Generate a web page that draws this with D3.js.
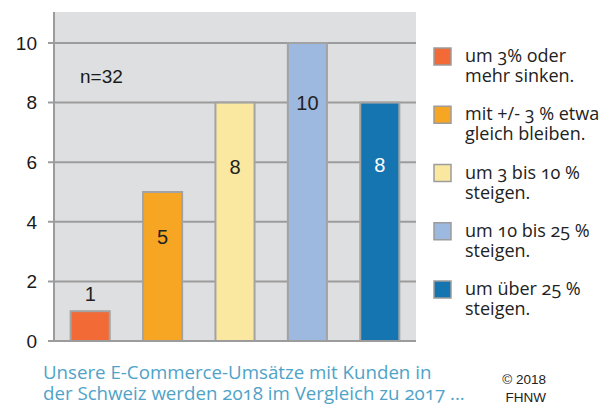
<!DOCTYPE html>
<html><head><meta charset="utf-8">
<script src="https://cdn.jsdelivr.net/npm/d3@7"></script>
<style>
body{margin:0;background:#fff;}
svg{display:block;}
.leg{font-family:"Open Sans",sans-serif;font-size:18px;fill:#222;font-variant-numeric:oldstyle-nums;font-feature-settings:"onum";}
.cap{font-family:"Open Sans",sans-serif;font-size:18.7px;fill:#4fa3c8;font-variant-numeric:oldstyle-nums;font-feature-settings:"onum";}
</style></head>
<body>
<script>
const categories = ["um 3% oder\nmehr sinken.", "mit +/- 3 % etwa\ngleich bleiben.", "um 3 bis 10 %\nsteigen.", "um 10 bis 25 %\nsteigen.", "um über 25 %\nsteigen."];
const values = [1, 5, 8, 10, 8];
const labelAt = [1.6, 3.5, 5.85, 8, 5.9];
const colors = ["#f26a35", "#f6a623", "#fbe8a0", "#9db9e0", "#1475b1"];
const labelColors = ["#222", "#222", "#222", "#222", "#fff"];
const yTicks = [0, 2, 4, 6, 8, 10];
const caption = ["Unsere E-Commerce-Umsätze mit Kunden in", "der Schweiz werden 2018 im Vergleich zu 2017 ..."];
const note = "n=32";
const credit = ["© 2018", "FHNW"];

const W = 616, H = 406;
const svg = d3.select("body").append("svg").attr("width", W).attr("height", H);
const pL = 54, pR = 416, pT = 12, pB = 341;
const x = d3.scaleBand().domain(d3.range(values.length)).range([pL, pR]).paddingInner(0.46).paddingOuter(0.23);
const y = d3.scaleLinear().domain([0, 10]).range([pB, 43]);

svg.append("rect").attr("x", pL).attr("y", pT).attr("width", pR - pL).attr("height", pB - pT).attr("fill", "#dedfe1");

// gridlines
svg.append("g").selectAll("line").data(yTicks).join("line")
  .attr("x1", pL - 6).attr("x2", pR).attr("y1", d => y(d)).attr("y2", d => y(d))
  .attr("stroke", "#9c9c9c").attr("stroke-width", 2);
svg.append("line").attr("x1", pL).attr("x2", pL).attr("y1", pT).attr("y2", pB + 1)
  .attr("stroke", "#9c9c9c").attr("stroke-width", 2);

// y tick labels
svg.append("g").selectAll("text").data(yTicks).join("text")
  .attr("x", 37).attr("y", d => y(d)).attr("dy", "0.36em").attr("text-anchor", "end")
  .attr("font-family", "Liberation Sans, Arial, sans-serif").attr("font-size", 19).attr("fill", "#1a1a1a")
  .text(d => d);

// bars
svg.append("g").selectAll("rect").data(values).join("rect")
  .attr("x", (d, i) => x(i)).attr("width", x.bandwidth())
  .attr("y", d => y(d)).attr("height", d => y(0) - y(d))
  .attr("fill", (d, i) => colors[i]).attr("stroke", "#a3a3a3").attr("stroke-width", 2);
svg.append("line").attr("x1", pL - 6).attr("x2", pR).attr("y1", y(0)).attr("y2", y(0))
  .attr("stroke", "#9c9c9c").attr("stroke-width", 2);

// bar labels
svg.append("g").selectAll("text").data(values).join("text")
  .attr("x", (d, i) => x(i) + x.bandwidth() / 2).attr("y", (d, i) => y(labelAt[i])).attr("dy", "0.36em")
  .attr("text-anchor", "middle")
  .attr("font-family", "Liberation Sans, Arial, sans-serif").attr("font-size", 20)
  .attr("fill", (d, i) => labelColors[i]).text(d => d);

svg.append("text").attr("x", 80).attr("y", 76).attr("dy", "0.36em")
  .attr("font-family", "Liberation Sans, Arial, sans-serif").attr("font-size", 19).attr("fill", "#1a1a1a").text(note);

// legend
const legY = d3.scalePoint().domain(d3.range(categories.length)).range([56, 289]);
const lg = svg.append("g").selectAll("g").data(categories).join("g")
  .attr("transform", (d, i) => `translate(434,${legY(i)})`);
lg.append("rect").attr("x", 0).attr("y", -8).attr("width", 17).attr("height", 17)
  .attr("fill", (d, i) => colors[i]).attr("stroke", "#9c9c9c").attr("stroke-width", 1.5);
lg.each(function(d) {
  const lines = d.split("\n");
  d3.select(this).selectAll("text").data(lines).join("text").attr("class", "leg")
    .attr("x", 31).attr("y", (l, j) => 6 + j * 20).text(l => l);
});

// caption
svg.append("g").selectAll("text").data(caption).join("text").attr("class", "cap")
  .attr("x", 43).attr("y", (d, i) => 379 + i * 21).text(d => d);
svg.append("g").selectAll("text").data(credit).join("text")
  .attr("x", 546).attr("y", (d, i) => 384 + i * 18).attr("text-anchor", "end")
  .attr("font-family", "Liberation Sans, Arial, sans-serif").attr("font-size", 13.5).attr("fill", "#222")
  .text(d => d);
</script>
</body></html>
